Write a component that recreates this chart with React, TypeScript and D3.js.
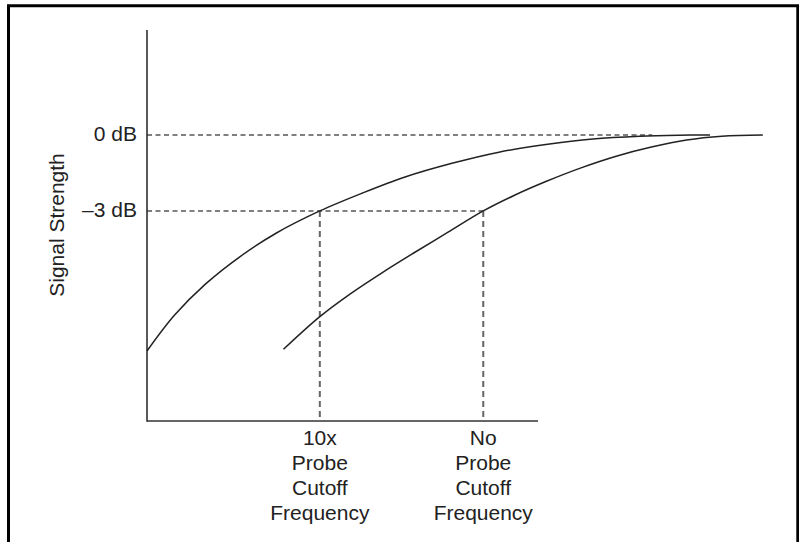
import React from "react";
import * as d3 from "d3";

// Frequency (arbitrary linear units) and signal strength (dB)
const probe10xFreq = [0, 0.7, 1.5, 2.4, 3.3, 4.42, 5.5, 6.6, 7.8, 9.0, 10.2, 11.4, 12.6, 13.6, 14.4];
const probe10xDb = [-8.53, -7.12, -5.88, -4.78, -3.88, -3.0, -2.3, -1.66, -1.12, -0.68, -0.38, -0.16, -0.05, -0.01, 0];

const noProbeFreq = [3.49, 4.42, 5.2, 6.0, 6.8, 7.7, 8.6, 9.4, 10.2, 11.1, 12.0, 12.9, 13.8, 14.7, 15.75];
const noProbeDb = [-8.46, -7.17, -6.27, -5.45, -4.68, -3.84, -3.0, -2.38, -1.84, -1.3, -0.84, -0.48, -0.2, -0.05, 0];

const yTickValues = [0, -3];
const yTickLabels = ["0 dB", "\u20133 dB"];
const cutoffFreqs = [4.42, 8.6];
const cutoffLabels = [
  ["10x", "Probe", "Cutoff", "Frequency"],
  ["No", "Probe", "Cutoff", "Frequency"],
];
const zeroDbLineEnd = 12.92;
const yAxisLabel = "Signal Strength";

const W = 799;
const H = 542;

export default function App() {
  const x = d3.scaleLinear().domain([0, 10]).range([147, 538]);
  const y = d3.scaleLinear().domain([-11.29, 4.14]).range([421, 30]);

  const line = d3
    .line<[number, number]>()
    .x((d) => x(d[0]))
    .y((d) => y(d[1]))
    .curve(d3.curveCatmullRom.alpha(0.5));

  const c1 = probe10xFreq.map((f, i) => [f, probe10xDb[i]] as [number, number]);
  const c2 = noProbeFreq.map((f, i) => [f, noProbeDb[i]] as [number, number]);

  const font = "'Liberation Sans', Arial, Helvetica, sans-serif";
  const [x0, x1] = x.range();
  const [yb, yt] = y.range();

  return (
    <div style={{ position: "absolute", left: 0, top: 0, width: W, height: H }}>
      <svg width={W} height={H} style={{ display: "block" }} fontFamily={font}>
        <rect x={0} y={0} width={W} height={H} fill="#fff" />
        {/* frame */}
        <path d={`M8.5,${H + 5} V5.8 H797.8 V${H + 5}`} fill="none" stroke="#000" strokeWidth={3} />

        {/* dashed reference lines */}
        <line x1={x0} x2={x(zeroDbLineEnd)} y1={y(0)} y2={y(0)} stroke="#555" strokeWidth={1.5} strokeDasharray="5,3.5" />
        <line x1={x0} x2={x(cutoffFreqs[1])} y1={y(-3)} y2={y(-3)} stroke="#555" strokeWidth={1.5} strokeDasharray="5,3.5" />
        {cutoffFreqs.map((f, i) => (
          <line key={i} x1={x(f)} x2={x(f)} y1={y(-3)} y2={yb} stroke="#666" strokeWidth={2} strokeDasharray="6,4" />
        ))}

        {/* axes */}
        <line x1={x0} x2={x0} y1={yt} y2={yb + 0.75} stroke="#222" strokeWidth={1.5} />
        <line x1={x0} x2={x1} y1={yb} y2={yb} stroke="#333" strokeWidth={1.5} />

        {/* curves */}
        <path d={line(c1) || ""} fill="none" stroke="#222" strokeWidth={1.5} />
        <path d={line(c2) || ""} fill="none" stroke="#222" strokeWidth={1.5} />

        {/* y tick labels */}
        {yTickValues.map((v, i) => (
          <text key={i} x={137} y={y(v) + 6.5} textAnchor="end" fontSize={21} fill="#222">
            {yTickLabels[i]}
          </text>
        ))}

        {/* y axis title */}
        <text transform={`translate(64,225) rotate(-90)`} textAnchor="middle" fontSize={21} fill="#222">
          {yAxisLabel}
        </text>

        {/* x labels */}
        {cutoffFreqs.map((f, i) => (
          <text key={i} x={x(f)} textAnchor="middle" fontSize={21} fill="#222">
            {cutoffLabels[i].map((t, j) => (
              <tspan key={j} x={x(f)} y={445 + j * 25}>
                {t}
              </tspan>
            ))}
          </text>
        ))}
      </svg>
    </div>
  );
}
